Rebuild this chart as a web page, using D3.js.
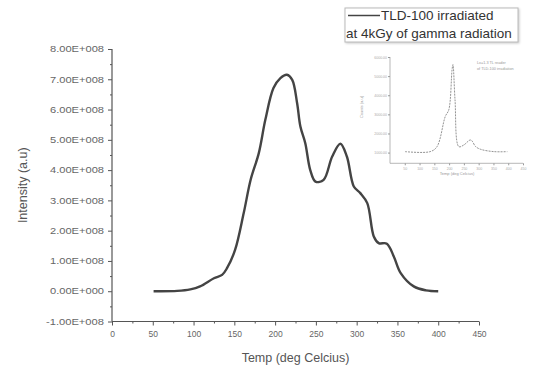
<!DOCTYPE html>
<html>
<head>
<meta charset="utf-8">
<script src="https://cdn.jsdelivr.net/npm/d3@7"></script>
<style>
  body { margin: 0; background: #fff; }
  svg { font-family: Arial, "Liberation Sans", sans-serif; }
</style>
</head>
<body>
<div id="chart"></div>
<script>
// main glow curve (temperature in deg C, intensity in units of 1e8)
const temps = [51, 80, 96, 108, 125, 135, 141, 151, 161.5, 170, 180, 188, 198, 206.5, 214.5, 221, 227, 231, 237, 243, 249.5, 259.5, 270, 280, 288, 296.5, 304.5, 313, 321, 327, 337, 345.5, 354, 370, 385, 400];
const intensity = [0, 0.01, 0.06, 0.16, 0.43, 0.54, 0.76, 1.37, 2.58, 3.68, 4.56, 5.66, 6.71, 7.04, 7.15, 6.98, 6.21, 5.44, 4.89, 4.01, 3.62, 3.68, 4.45, 4.87, 4.45, 3.46, 3.24, 2.91, 1.81, 1.59, 1.57, 1.15, 0.6, 0.16, 0.03, 0];
const yTicks = [-1, 0, 1, 2, 3, 4, 5, 6, 7, 8];
const yTickLabels = ['-1.00E+008', '0.00E+000', '1.00E+008', '2.00E+008', '3.00E+008', '4.00E+008', '5.00E+008', '6.00E+008', '7.00E+008', '8.00E+008'];
const xTicks = [0, 50, 100, 150, 200, 250, 300, 350, 400, 450];

// inset curve
const insetTemps = [51, 136, 159, 187, 199, 210, 213, 220, 233, 250, 273, 290, 307, 352, 397];
const insetValues = [1.05, 1.05, 1.31, 2.89, 3.24, 5.34, 5.6, 3.76, 1.31, 1.4, 1.66, 1.31, 1.17, 1.05, 1.05];
const insetYTicks = [1, 2, 3, 4, 5, 6];
const insetYLabels = ['1000.00', '2000.00', '3000.00', '4000.00', '5000.00', '6000.00'];
const insetXTicks = [50, 100, 150, 200, 250, 300, 350, 400, 450];

const width = 550, height = 370;
const svg = d3.select('#chart').append('svg')
  .attr('width', width)
  .attr('height', height);

const x = d3.scaleLinear().domain([0, 450]).range([112, 479]);
const y = d3.scaleLinear().domain([-1, 8]).range([321.5, 49]);

const axisColor = '#555';

// y axis
const yAxis = svg.append('g')
  .attr('transform', `translate(${x(0)},0)`)
  .call(d3.axisLeft(y).tickValues(yTicks).tickSize(4).tickPadding(4).tickFormat((d, i) => yTickLabels[i]));
yAxis.append('g')
  .call(d3.axisLeft(y).tickValues(d3.range(-0.5, 8, 1)).tickSize(2).tickFormat(''));
yAxis.selectAll('.tick text')
  .attr('textLength', d => d < 0 ? 58 : 54)
  .attr('lengthAdjust', 'spacingAndGlyphs');

// x axis
const xAxis = svg.append('g')
  .attr('transform', `translate(0,${y(-1)})`)
  .call(d3.axisBottom(x).tickValues(xTicks).tickSize(4).tickPadding(5));
xAxis.append('g')
  .call(d3.axisBottom(x).tickValues(d3.range(25, 450, 50)).tickSize(2).tickFormat(''));

svg.selectAll('.domain').remove();
svg.append('line')
  .attr('x1', x(0)).attr('x2', x(0)).attr('y1', y(8)).attr('y2', y(-1))
  .attr('stroke', axisColor).attr('stroke-width', 1.2);
svg.append('line')
  .attr('x1', x(0)).attr('x2', x(450)).attr('y1', y(-1)).attr('y2', y(-1))
  .attr('stroke', axisColor).attr('stroke-width', 1.2);
svg.selectAll('.tick line').attr('stroke', axisColor);
svg.selectAll('.tick text').attr('fill', '#666').style('font-size', '8.5px');

// axis titles
svg.append('text')
  .attr('transform', `translate(24,${(y(-1) + y(8)) / 2}) rotate(-90)`)
  .attr('text-anchor', 'middle')
  .attr('dominant-baseline', 'middle')
  .attr('fill', '#555')
  .style('font-size', '12.5px')
  .text('Intensity (a.u)');

svg.append('text')
  .attr('x', (x(0) + x(450)) / 2)
  .attr('y', 359)
  .attr('text-anchor', 'middle')
  .attr('dominant-baseline', 'middle')
  .attr('fill', '#555')
  .style('font-size', '12.5px')
  .text('Temp (deg Celcius)');

// main curve
const pts = temps.map((t, i) => [t, intensity[i]]);
svg.append('path')
  .datum(pts)
  .attr('fill', 'none')
  .attr('stroke', '#444')
  .attr('stroke-width', 2.4)
  .attr('d', d3.line().x(d => x(d[0])).y(d => y(d[1])).curve(d3.curveCatmullRom));

// legend
const lg = svg.append('g');
lg.append('rect')
  .attr('x', 345).attr('y', 8).attr('width', 173).attr('height', 34)
  .attr('fill', '#fff')
  .attr('stroke', '#bbb')
  .attr('stroke-width', 1)
  .style('filter', 'drop-shadow(1px 1px 1px #ccc)');
lg.append('line')
  .attr('x1', 348).attr('x2', 380).attr('y1', 15.5).attr('y2', 15.5)
  .attr('stroke', '#444').attr('stroke-width', 1.5);
lg.append('text')
  .attr('x', 381).attr('y', 16)
  .attr('dominant-baseline', 'middle')
  .attr('fill', '#333')
  .style('font-size', '13.5px')
  .text('TLD-100 irradiated');
lg.append('text')
  .attr('x', 346).attr('y', 34)
  .attr('dominant-baseline', 'middle')
  .attr('fill', '#333')
  .style('font-size', '13.5px')
  .text('at 4kGy of gamma radiation');

// inset
const ix = d3.scaleLinear().domain([0, 450]).range([390, 523]);
const iy = d3.scaleLinear().domain([0.44, 6.0]).range([163.3, 57]);
const inset = svg.append('g').attr('class', 'inset');

inset.append('g')
  .attr('transform', `translate(${ix(0)},0)`)
  .call(d3.axisLeft(iy).tickValues(insetYTicks).tickSize(2).tickPadding(1).tickFormat((d, i) => insetYLabels[i]));
inset.append('g')
  .attr('transform', `translate(0,${iy(0.44)})`)
  .call(d3.axisBottom(ix).tickValues(insetXTicks).tickSize(2).tickPadding(2));
inset.selectAll('.domain').remove();
inset.append('line')
  .attr('x1', ix(0)).attr('x2', ix(0)).attr('y1', iy(6)).attr('y2', iy(0.44))
  .attr('stroke', '#999').attr('stroke-width', 0.7);
inset.append('line')
  .attr('x1', ix(0)).attr('x2', ix(450)).attr('y1', iy(0.44)).attr('y2', iy(0.44))
  .attr('stroke', '#999').attr('stroke-width', 0.7);
inset.selectAll('.tick line').attr('stroke', '#999');
inset.selectAll('.tick text').attr('fill', '#aaa').style('font-size', '3.5px');

inset.append('text')
  .attr('transform', `translate(363,107) rotate(-90)`)
  .attr('text-anchor', 'middle')
  .attr('fill', '#999')
  .style('font-size', '4px')
  .text('Counts (a.u)');
inset.append('text')
  .attr('x', 457).attr('y', 175)
  .attr('text-anchor', 'middle')
  .attr('fill', '#999')
  .style('font-size', '4px')
  .text('Temp (deg Celcius)');
inset.append('text')
  .attr('x', 477).attr('y', 64)
  .attr('fill', '#999')
  .style('font-size', '3.8px')
  .text('Lx=1.3 TL reader');
inset.append('text')
  .attr('x', 477).attr('y', 70)
  .attr('fill', '#999')
  .style('font-size', '3.8px')
  .text('of TLD-100 irradiation');

const ipts = insetTemps.map((t, i) => [t, insetValues[i]]);
inset.append('path')
  .datum(ipts)
  .attr('fill', 'none')
  .attr('stroke', '#777')
  .attr('stroke-width', 0.8)
  .attr('stroke-dasharray', '2,1')
  .attr('d', d3.line().x(d => ix(d[0])).y(d => iy(d[1])).curve(d3.curveCatmullRom));
</script>
</body>
</html>
